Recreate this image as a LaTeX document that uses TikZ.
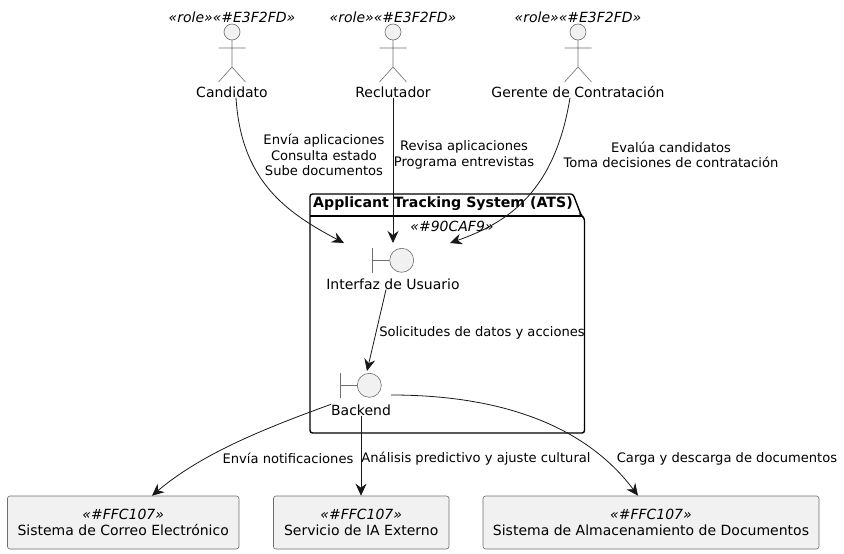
\documentclass[tikz,border=0pt]{standalone}
\usepackage{fontspec}
\setmainfont{DejaVu Sans}
\usepackage{tikz}
\usetikzlibrary{arrows.meta, calc, positioning}
\definecolor{umlfill}{HTML}{F1F1F1}
\definecolor{umlline}{HTML}{181818}
\definecolor{umlgray}{HTML}{6E6E6E}
\newcommand{\umlsize}{\fontsize{14}{16}\selectfont}
\newcommand{\lblsize}{\fontsize{13.1}{15.5}\selectfont}
\tikzset{
  txt/.style={inner sep=0pt, font=\umlsize, align=center},
  lbl/.style={inner sep=0pt, font=\lblsize, align=center},
  stereo/.style={inner sep=0pt, font=\umlsize\itshape},
  head/.style={circle, draw=umlgray, fill=umlfill, line width=.6pt, inner sep=0pt, minimum size=16pt},
  ball/.style={circle, draw=umlgray, fill=umlfill, line width=.6pt, inner sep=0pt, minimum size=24pt},
  limb/.style={draw=umlgray, line width=.6pt},
  sysbox/.style={rectangle, rounded corners=2.5pt, draw=umlgray, fill=umlfill, line width=.6pt, minimum height=53pt, align=center, font=\umlsize},
  flow/.style={->, draw=umlline, line width=.8pt},
  actorbody/.pic={
    \draw[limb] (0,40) -- (0,67) (-13.5,48) -- (13.5,48) (-13.5,82) -- (0,67) -- (13.5,82);
  }
}
\begin{document}
\begin{tikzpicture}[x=1pt, y=-1pt, >={Stealth[length=12pt, width=11pt, inset=4pt]}]
  \useasboundingbox (0,0) rectangle (844,554);
  % package
  \draw[black, line width=1.4pt, rounded corners=2.5pt, fill=white]
    (310,216) -- (310,194) -- (573,194) -- (581.5,216) -- (584.5,218) -- (584.5,433) -- (310,433) -- cycle;
  \draw[black, line width=1.4pt] (310,216) -- (581.5,216);
  \node[inner sep=0pt, font=\fontsize{14.15}{17}\selectfont\bfseries] (atsTitle) at (443,203.5) {Applicant Tracking System (ATS)};
  \node[stereo] (atsStereo) at (452,226) {«\#90CAF9»};
  % actors
  \pic at (232,0) {actorbody};
  \node[head] (candidatoHead) at (232,32) {};
  \node[stereo] (candidatoStereo) at (232,17) {«role»«\#E3F2FD»};
  \node[txt] (candidato) at (232,92) {Candidato};
  \pic at (393,0) {actorbody};
  \node[head] (reclutadorHead) at (393,32) {};
  \node[stereo] (reclutadorStereo) at (393,17) {«role»«\#E3F2FD»};
  \node[txt] (reclutador) at (393,92) {Reclutador};
  \pic at (578,0) {actorbody};
  \node[head] (gerenteHead) at (578,32) {};
  \node[stereo] (gerenteStereo) at (578,17) {«role»«\#E3F2FD»};
  \node[txt] (gerente) at (578,92) {Gerente de Contratación};
  % boundaries
  \node[ball] (interfazBall) at (401.7,260.3) {};
  \draw[limb] (372.5,248) -- (372.5,272.5);
  \draw[limb] (372.5,260.3) -- (interfazBall);
  \node[txt] (interfaz) at (393,284) {Interfaz de Usuario};
  \node[ball] (backendBall) at (369.3,385.3) {};
  \draw[limb] (340.5,373) -- (340.5,397.5);
  \draw[limb] (340.5,385.3) -- (backendBall);
  \node[txt] (backend) at (361,410) {Backend};
  % systems
  \node[sysbox, minimum width=231.5pt] (correo) at (123.2,522.5) {{\itshape «\#FFC107»}\\Sistema de Correo Electrónico};
  \node[sysbox, minimum width=175.5pt] (ia) at (361.2,522.5) {{\itshape «\#FFC107»}\\Servicio de IA Externo};
  \node[sysbox, minimum width=336pt] (docs) at (651,522.5) {{\itshape «\#FFC107»}\\Sistema de Almacenamiento de Documentos};
  % free ends of the connectors
  \coordinate (inA) at (344,243);
  \coordinate (inB) at (393,243);
  \coordinate (inC) at (450,243);
  \coordinate (inD) at (367,371);
  \coordinate (outA) at (391,395);
  % connectors
  \draw[flow] (candidato.south -| 236,0) .. controls (241,180) and (285,212) .. (inA);
  \draw[flow] (reclutador.south) -- (inB);
  \draw[flow] (gerente.south -| 570,0) .. controls (555,190) and (510,222) .. (inC);
  \draw[flow] (interfaz.south -| 386,0) -- (inD);
  \draw[flow] (backend.north west) .. controls (260,430) and (200,455) .. (correo.north -| 152,0);
  \draw[flow] (backend.south) -- (ia.north -| backend.south);
  \draw[flow] (outA) .. controls (500,395) and (585,425) .. (docs.north -| 638,0);
  % connector labels
  \node[lbl] (lblCandidato) at (324,155) {Envía aplicaciones\\Consulta estado\\Sube documentos};
  \node[lbl] (lblReclutador) at (464,155) {Revisa aplicaciones\\Programa entrevistas};
  \node[lbl] (lblGerente) at (671,155) {Evalúa candidatos\\Toma decisiones de contratación};
  \node[lbl] (lblInterfaz) at (482,332.7) {Solicitudes de datos y acciones};
  \node[lbl] (lblCorreo) at (288,458.7) {Envía notificaciones};
  \node[lbl] (lblIa) at (476,458.7) {Análisis predictivo y ajuste cultural};
  \node[lbl] (lblDocs) at (727,458.7) {Carga y descarga de documentos};
\end{tikzpicture}
\end{document}
